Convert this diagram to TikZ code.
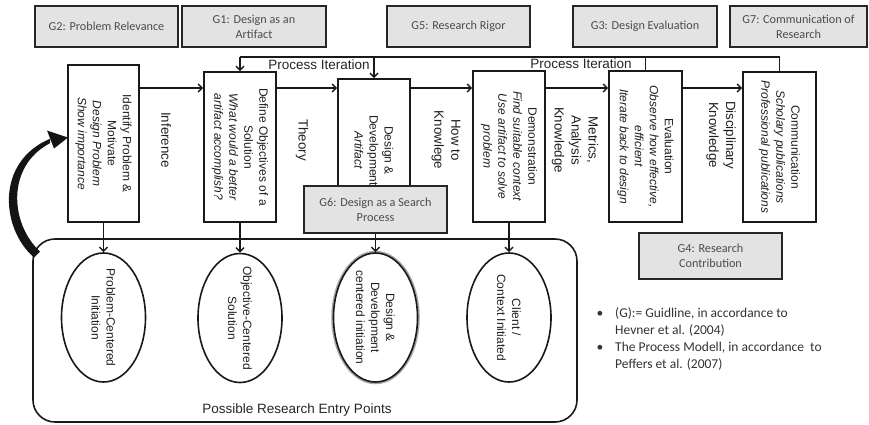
\documentclass[tikz,border=0pt]{standalone}
\usepackage{fontspec}
\setmainfont{Liberation Sans}
\newfontfamily\calib{Carlito}
\usetikzlibrary{arrows.meta,shapes.geometric}

\begin{document}
\begin{tikzpicture}[x=1pt,y=-1pt,
  procbox/.style={draw=black!90, line width=1.8pt, fill=white, inner sep=0pt},
  gbox/.style={draw=black!85, line width=2.2pt, fill=black!11, inner sep=0pt,
    align=center, text=black!70, minimum width=143pt,
    font=\calib\fontsize{12.2}{15}\selectfont},
  boxtext/.style={rotate=-90, align=center, inner sep=0pt, text=black!88,
    font=\fontsize{12}{15}\selectfont},
  flowlabel/.style={rotate=-90, align=center, inner sep=0pt, text=black!88,
    font=\fontsize{13.3}{17}\selectfont},
  entrypt/.style={ellipse, draw=black!90, line width=1.6pt, fill=white,
    minimum width=84pt, minimum height=129pt, inner sep=0pt},
  arr/.style={-{Straight Barb[length=4pt,width=8pt]}, line width=1.4pt, black!90},
  link/.style={line width=1.4pt, black!90},
  note/.style={anchor=base west, inner sep=0pt, text=black!80,
    font=\calib\fontsize{13.5}{16}\selectfont},
]
\fill[white] (0,0) rectangle (869,424);
\useasboundingbox (0,0) rectangle (869,424);

% guideline boxes along the top
\node[gbox, minimum height=41pt] (g2) at (106.5,26.5) {G2: Problem Relevance};
\node[gbox, minimum height=41pt, minimum width=144pt] (g1) at (254,26.5) {G1: Design as an\\Artifact};
\node[gbox, minimum height=41pt] (g5) at (458.5,26.5) {G5: Research Rigor};
\node[gbox, minimum height=41pt, minimum width=144pt] (g3) at (645,26.5) {G3: Design Evaluation};
\node[gbox, minimum height=41pt, minimum width=137pt] (g7) at (798.5,26.5) {G7: Communication of\\Research};

% possible research entry points
\node[draw=black!90, line width=1.6pt, rounded corners=22pt, minimum width=544pt,
  minimum height=183pt, inner sep=0pt] (entry) at (305,330.5) {};
\node[inner sep=0pt, text=black!85, font=\fontsize{13.5}{16}\selectfont] (entrylbl)
  at (297,410) {Possible Research Entry Points};

% process steps
\node[procbox, minimum width=71pt, minimum height=157pt] (idp) at (103.5,143.5) {};
\node[procbox, minimum width=72pt, minimum height=150pt] (def) at (240,147) {};
\node[procbox, minimum width=72pt, minimum height=143pt] (dev) at (374,150.5) {};
\node[procbox, minimum width=72pt, minimum height=151pt] (dem) at (509,146.5) {};
\node[procbox, minimum width=73pt, minimum height=151pt] (eva) at (645.5,146.5) {};
\node[procbox, minimum width=73pt, minimum height=150pt] (com) at (779.5,147) {};

\node[boxtext] (idpT) at (idp) {Identify Problem \&\\Motivate\\\textit{Design Problem}\\\textit{Show importance}};
\node[boxtext] (defT) at (def) {Define Objectives of a\\Solution\\\textit{What would a better}\\\textit{artifact accomplish?}};
\node[boxtext] (devT) at (dev) {Design \&\\Development\\\textit{Artifact}};
\node[boxtext] (demT) at (dem) {Demonstration\\\textit{Find suitable context}\\\textit{Use artifact to solve}\\\textit{problem}};
\node[boxtext] (evaT) at (eva) {Evaluation\\\textit{Observe how effective,}\\\textit{efficient}\\\textit{Iterate back to design}};
\node[boxtext] (comT) at (com) {Communication\\\textit{Scholary publications}\\\textit{Professional publications}};

% guideline boxes in between
\node[gbox, minimum height=47pt] (g6) at (375.5,209.5) {G6: Design as a Search\\Process};
\node[gbox, minimum height=46pt] (g4) at (710.5,256) {G4: Research\\Contribution};

% knowledge flowing between the steps
\node[flowlabel] (lInf) at (166,140) {Inference};
\node[flowlabel] (lTheory) at (302,140) {Theory};
\node[flowlabel] (lHow) at (446,140) {How to\\Knowlege};
\node[flowlabel] (lMet) at (575,140) {Metrics,\\Analysis\\Knowledge};
\node[flowlabel] (lDisc) at (721,135) {Disciplinary\\Knowledge};

% main sequence
\coordinate (row) at (0,88);
\draw[arr] (idp.east |- row) -- (def.west |- row);
\draw[arr] (def.east |- row) -- (dev.west |- row);
\draw[arr] (dev.east |- row) -- (dem.west |- row);
\draw[arr] (dem.east |- row) -- (eva.west |- row);
\draw[arr] (eva.east |- row) -- (com.west |- row);

% process iteration
\coordinate (it) at (0,57);
\draw[link] (def.north |- it) -- (com.north |- it);
\draw[arr] (def.north |- it) -- (def.north);
\draw[arr] (dev.north |- it) -- (dev.north);
\draw[link] (eva.north |- it) -- (eva.north);
\draw[link] (com.north |- it) -- (com.north);
\node[inner sep=0pt, text=black!85, font=\fontsize{13.5}{16}\selectfont] (pi1) at (319,65) {Process Iteration};
\node[inner sep=0pt, text=black!85, font=\fontsize{13.5}{16}\selectfont] (pi2) at (581,64) {Process Iteration};

% entry points
\node[entrypt] (e1) at (103.5,317.5) {};
\node[entrypt] (e2) at (240,318) {};
\node[ellipse, draw=black!35, line width=3.5pt, minimum width=85pt, minimum height=130pt] (e3halo) at (375.5,317.5) {};
\node[entrypt] (e3) at (375.5,317.5) {};
\node[entrypt] (e4) at (509,317.5) {};
\node[boxtext] (e1T) at (e1) {Problem-Centered\\Initiation};
\node[boxtext] (e2T) at (e2) {Objective-Centered\\Solution};
\node[boxtext] (e3T) at (e3) {Design \&\\Development\\centered initiation};
\node[boxtext] (e4T) at (e4) {Client /\\Context Initiated};

\draw[arr] (idp.south) -- (e1.north);
\draw[arr] (def.south) -- (e2.north);
\draw[arr] (g6.south) -- (e3.north);
\draw[arr] (dem.south) -- (e4.north);

% loop from the entry points back to the first step
\fill[black!92] (34,257.5) .. controls (1,229) and (-5,162) .. (50,138.8)
  -- (50,143.2) .. controls (6,166) and (10,224) .. (40,251.5) -- cycle;
\fill[black!92] (68,137.5) -- (47,130.5) -- (54,148.5) -- cycle;

% notes
\node[note, anchor=base] (b1) at (600,317.5) {\textbullet};
\node[note] (n1) at (615,317.5) {(G):= Guidline, in accordance to};
\node[note] (n2) at (615,334.5) {Hevner et al. (2004)};
\node[note, anchor=base] (b2) at (600,351.5) {\textbullet};
\node[note] (n3) at (615,351.5) {The Process Modell, in accordance\ \ to};
\node[note] (n4) at (615,368) {Peffers et al. (2007)};
\end{tikzpicture}
\end{document}
